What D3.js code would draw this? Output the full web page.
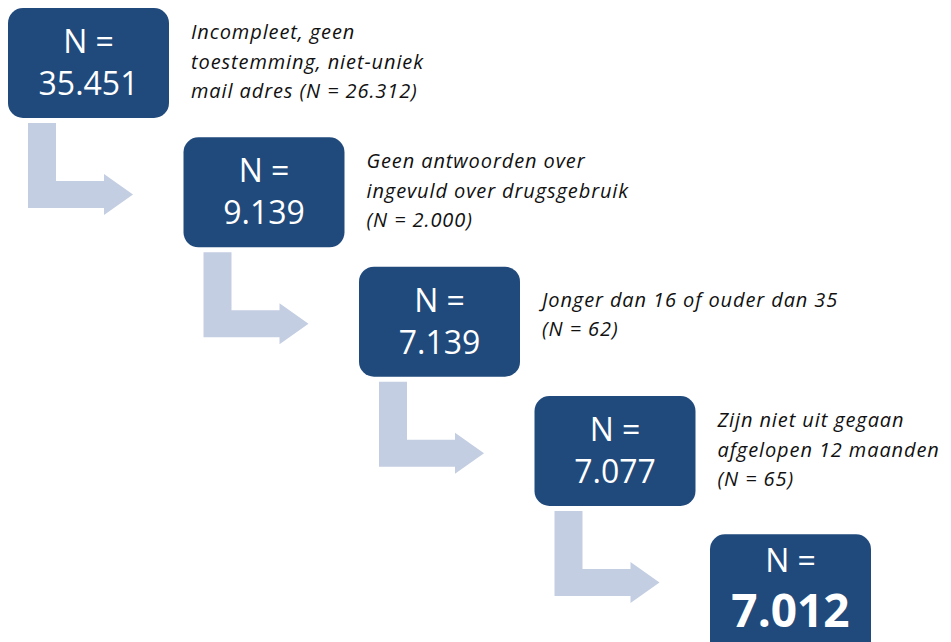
<!DOCTYPE html>
<html>
<head>
<meta charset="utf-8">
<script src="https://cdn.jsdelivr.net/npm/d3@7"></script>
<style>
  body { margin: 0; background: #fff; }
  svg { display: block; }
</style>
</head>
<body>
<div id="flow"></div>
<script>
// remaining respondents after each step
var counts = ["35.451", "9.139", "7.139", "7.077", "7.012"];

// reason for exclusion between step i and i+1, one entry per line
var exclusions = [
  ["Incompleet, geen", "toestemming, niet-uniek", "mail adres (N = 26.312)"],
  ["Geen antwoorden over", "ingevuld over drugsgebruik", "(N = 2.000)"],
  ["Jonger dan 16 of ouder dan 35", "(N = 62)"],
  ["Zijn niet uit gegaan", "afgelopen 12 maanden", "(N = 65)"]
];

var w = 951, h = 642;
var boxW = 161, boxH = 110, radius = 15;
var darkBlue = "#214a7c", lightBlue = "#c3cee2";

var svg = d3.select("#flow")
  .append("svg")
  .attr("width", w)
  .attr("height", h);

var steps = d3.range(counts.length);

// step index -> top-left corner of the box
var x = d3.scaleLinear().domain([0, 4]).range([8, 710]);
var y = d3.scaleLinear().domain([0, 3]).range([8, 396]);
function boxTop(i) {
  // last box sits a little lower than the rest
  return i == steps.length - 1 ? y(i) + 9 : y(i);
}

// bent arrows, drawn first so they sit under the boxes
function arrowPath(i) {
  var x0 = x(i), y0 = boxTop(i);
  var p = d3.path();
  p.moveTo(x0 + 20, y0 + boxH + 5);
  p.lineTo(x0 + 48, y0 + boxH + 5);
  p.lineTo(x0 + 48, y0 + 173);
  p.lineTo(x0 + 96, y0 + 173);
  p.lineTo(x0 + 96, y0 + 166);
  p.lineTo(x0 + 125, y0 + 186.5);
  p.lineTo(x0 + 96, y0 + 207);
  p.lineTo(x0 + 96, y0 + 200);
  p.lineTo(x0 + 20, y0 + 200);
  p.closePath();
  return p.toString();
}

svg.selectAll("path.arrow")
  .data(steps.slice(0, -1))
  .enter()
  .append("path")
  .attr("class", "arrow")
  .attr("d", arrowPath)
  .style("fill", lightBlue);

var boxes = svg.selectAll("g.box")
  .data(steps)
  .enter()
  .append("g")
  .attr("class", "box")
  .attr("transform", function(d) { return "translate(" + x(d) + "," + boxTop(d) + ")"; });

boxes.append("rect")
  .attr("width", boxW)
  .attr("height", function(d) { return d == steps.length - 1 ? 125 : boxH; })
  .attr("rx", radius)
  .attr("ry", radius)
  .style("fill", darkBlue);

boxes.append("text")
  .attr("x", boxW / 2)
  .attr("y", function(d) { return d == steps.length - 1 ? 38 : 45; })
  .attr("text-anchor", "middle")
  .style("font-family", "'Open Sans', sans-serif")
  .style("font-size", "32px")
  .style("fill", "#fff")
  .text("N =");

boxes.append("text")
  .attr("x", boxW / 2)
  .attr("y", function(d) { return d == steps.length - 1 ? 93 : 87; })
  .attr("text-anchor", "middle")
  .style("font-family", "'Open Sans', sans-serif")
  .style("font-size", function(d) { return d == steps.length - 1 ? "46px" : "32px"; })
  .style("font-weight", function(d) { return d == steps.length - 1 ? "bold" : "normal"; })
  .style("fill", "#fff")
  .text(function(d) { return counts[d]; });

// exclusion notes to the right of each box
var notes = svg.selectAll("text.note")
  .data(exclusions)
  .enter()
  .append("text")
  .attr("class", "note")
  .attr("x", function(d, i) { return x(i) + boxW + 22; })
  .attr("y", function(d, i) { return boxTop(i) + 31 + (3 - d.length) * 9; })
  .style("font-family", "'Open Sans', sans-serif")
  .style("font-size", "20px")
  .style("letter-spacing", "0.9px")
  .style("font-style", "italic")
  .style("fill", "#111");

notes.selectAll("tspan")
  .data(function(d) { return d; })
  .enter()
  .append("tspan")
  .attr("x", function() { return d3.select(this.parentNode).attr("x"); })
  .attr("dy", function(d, j) { return j == 0 ? 0 : 29.5; })
  .text(function(d) { return d; });
</script>
</body>
</html>
